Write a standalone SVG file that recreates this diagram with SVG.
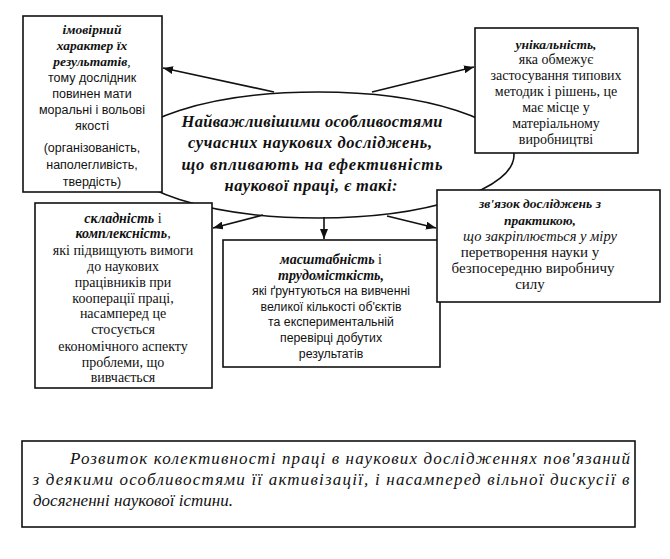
<svg xmlns="http://www.w3.org/2000/svg" width="670" height="559" viewBox="0 0 670 559">
<defs>
<marker id="ah" viewBox="0 0 10 8" refX="10" refY="4" markerWidth="10" markerHeight="8" markerUnits="userSpaceOnUse" orient="auto">
<path d="M0,0 L10,4 L0,8 z" fill="#111"/>
</marker>
<style>
.box{fill:#fff;stroke:#111;stroke-width:1.6}
.ell{fill:#fff;stroke:#111;stroke-width:1.6}
.con{fill:none;stroke:#111;stroke-width:1.6;marker-end:url(#ah)}
text{fill:#111;text-anchor:middle}
.bi{font-family:"Liberation Serif",serif;font-weight:bold;font-style:italic}
.ser{font-family:"Liberation Serif",serif}
.san{font-family:"Liberation Sans",sans-serif}
.it{font-family:"Liberation Serif",serif;font-style:italic}
</style>
</defs>
<rect width="670" height="559" fill="#fff"/>

<g id="center">
<ellipse class="ell" cx="318" cy="155" rx="196" ry="63"/>
<text class="bi" font-size="16.5" x="312" y="127" textLength="261" lengthAdjust="spacing">Найважливішими особливостями</text>
<text class="bi" font-size="16.5" x="310" y="148" textLength="244" lengthAdjust="spacing">сучасних наукових досліджень,</text>
<text class="bi" font-size="16.5" x="312" y="170" textLength="261" lengthAdjust="spacing">що впливають на ефективність</text>
<text class="bi" font-size="16.5" x="311" y="191" textLength="173" lengthAdjust="spacing">наукової праці, є такі:</text>
</g>

<g id="connectors">
<line class="con" x1="274" y1="92" x2="163" y2="68"/>
<line class="con" x1="372" y1="92" x2="474" y2="67"/>
<line class="con" x1="263" y1="215" x2="213" y2="228"/>
<line class="con" x1="324" y1="217" x2="324" y2="239"/>
<line class="con" x1="387" y1="216" x2="436" y2="228"/>
</g>

<g id="n1">
<rect class="box" x="23" y="16" width="139" height="176"/>
<text class="bi" font-size="13.5" x="92" y="34">імовірний</text>
<text class="bi" font-size="13.5" x="92" y="50">характер їх</text>
<text class="bi" font-size="13.5" x="92" y="66">результатів<tspan class="ser" font-weight="normal" font-style="normal">,</tspan></text>
<text class="san" font-size="12.5" x="92" y="82">тому дослідник</text>
<text class="san" font-size="12.5" x="92" y="98">повинен мати</text>
<text class="san" font-size="12.5" x="92" y="114">моральні і вольові</text>
<text class="san" font-size="12.5" x="92" y="130">якості</text>
<text class="san" font-size="12.5" x="92" y="152">(організованість,</text>
<text class="san" font-size="12.5" x="92" y="169">наполегливість,</text>
<text class="san" font-size="12.5" x="92" y="186">твердість)</text>
</g>

<g id="n2">
<rect class="box" x="475" y="28" width="163" height="125"/>
<text class="bi" font-size="13.5" x="556" y="49">унікальність,</text>
<text class="ser" font-size="14" x="556" y="64">яка обмежує</text>
<text class="ser" font-size="14" x="556" y="80">застосування типових</text>
<text class="ser" font-size="14" x="556" y="96">методик і рішень, це</text>
<text class="ser" font-size="14" x="556" y="112">має місце у</text>
<text class="ser" font-size="14" x="556" y="128">матеріальному</text>
<text class="ser" font-size="14" x="556" y="144">виробництві</text>
</g>

<g id="n3">
<rect class="box" x="35" y="203" width="177" height="185"/>
<text class="bi" font-size="14" x="123" y="223">складність <tspan class="ser" font-weight="normal" font-style="normal">і</tspan></text>
<text class="bi" font-size="14" x="123" y="238">комплексність<tspan class="ser" font-weight="normal">,</tspan></text>
<text class="ser" font-size="14" x="123" y="255">які підвищують вимоги</text>
<text class="ser" font-size="14" x="123" y="271">до наукових</text>
<text class="ser" font-size="14" x="123" y="287">працівників при</text>
<text class="ser" font-size="14" x="123" y="303">кооперації праці,</text>
<text class="ser" font-size="14" x="123" y="318">насамперед це</text>
<text class="ser" font-size="14" x="123" y="334">стосується</text>
<text class="ser" font-size="14" x="123" y="351">економічного аспекту</text>
<text class="ser" font-size="14" x="123" y="367">проблеми, що</text>
<text class="ser" font-size="14" x="123" y="382">вивчається</text>
</g>

<g id="n4">
<rect class="box" x="223" y="240" width="217" height="127"/>
<text class="bi" font-size="14" x="331" y="264">масштабність <tspan class="ser" font-weight="normal" font-style="normal">і</tspan></text>
<text class="bi" font-size="14" x="331" y="280">трудомісткість,</text>
<text class="san" font-size="12.3" x="331" y="295">які ґрунтуються на вивченні</text>
<text class="san" font-size="12.3" x="331" y="311">великої кількості об'єктів</text>
<text class="san" font-size="12.3" x="331" y="326">та експериментальній</text>
<text class="san" font-size="12.3" x="331" y="342">перевірці добутих</text>
<text class="san" font-size="12.3" x="331" y="358">результатів</text>
</g>

<g id="n5">
<rect class="box" x="437" y="190" width="223" height="112"/>
<text class="bi" font-size="13.5" x="540" y="208">зв'язок досліджень з</text>
<text class="bi" font-size="13.5" x="540" y="225">практикою,</text>
<text class="it" font-size="14.5" x="540" y="241">що закріплюється у міру</text>
<text class="ser" font-size="15" x="530" y="257">перетворення науки у</text>
<text class="ser" font-size="15" x="533" y="273">безпосередню виробничу</text>
<text class="ser" font-size="15" x="530" y="289">силу</text>
</g>

<g id="note">
<rect class="box" x="22" y="441" width="613" height="86"/>
<text class="it" font-size="17" x="350" y="464" textLength="560" lengthAdjust="spacing">Розвиток колективності праці в наукових дослідженнях пов'язаний</text>
<text class="it" font-size="17" x="331" y="485" textLength="597" lengthAdjust="spacing">з деякими особливостями її активізації, і насамперед вільної дискусії в</text>
<text class="it" font-size="17" x="33" y="506" style="text-anchor:start">досягненні наукової істини.</text>
</g>
</svg>
